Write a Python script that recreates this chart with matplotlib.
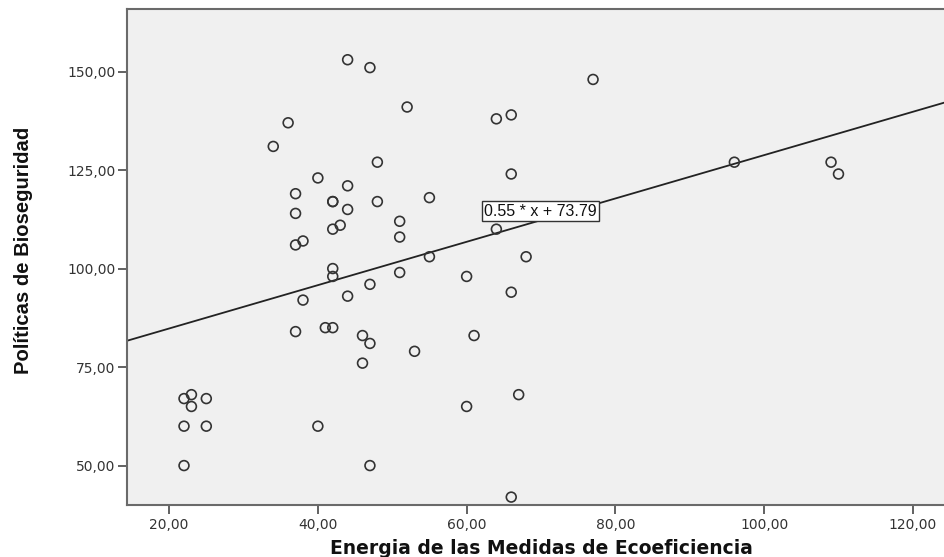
import matplotlib
matplotlib.use("Agg")
import matplotlib.pyplot as plt
import numpy as np

plt.rcParams['font.family'] = ['Liberation Sans', 'DejaVu Sans']

# Data
energia = [44, 47, 52, 64, 66, 36, 34, 48, 66, 40, 44, 37, 42, 42, 48, 55, 44, 37,
           51, 43, 42, 64, 51, 38, 37, 55, 68, 42, 42, 51, 60, 66, 47, 44, 38, 37,
           41, 42, 46, 47, 61, 53, 46, 67, 60, 22, 23, 23, 25, 22, 25, 40, 22, 47,
           66, 77, 96, 109, 110]
politicas = [153, 151, 141, 138, 139, 137, 131, 127, 124, 123, 121, 119, 117, 117,
             117, 118, 115, 114, 112, 111, 110, 110, 108, 107, 106, 103, 103, 100,
             98, 99, 98, 94, 96, 93, 92, 84, 85, 85, 83, 81, 83, 79, 76, 68, 65,
             67, 68, 65, 67, 60, 60, 60, 50, 50, 42, 148, 127, 127, 124]
fit_coef = [0.55, 73.79]  # slope, intercept (from the chart label)
x_ticks = [20, 40, 60, 80, 100, 120]
y_ticks = [50, 75, 100, 125, 150]
x_label = "Energia de las Medidas de Ecoeficiencia"
y_label = "Políticas de Bioseguridad"
fit_label = "0.55 * x + 73.79"

fig = plt.figure(figsize=(9.45, 5.57), dpi=100)
ax = fig.add_axes([0.1349, 0.0934, 0.8665, 0.8899])
ax.set_facecolor('#f0f0f0')

xlim = (14.4, 124.5)
ylim = (40.0, 165.8)
ax.set_xlim(*xlim)
ax.set_ylim(*ylim)

ax.scatter(energia, politicas, s=50, facecolors='none', edgecolors='#333333',
           linewidths=1.2, zorder=3)

xs = np.array(xlim)
ax.plot(xs, fit_coef[0] * xs + fit_coef[1], color='#222222', lw=1.3, zorder=2)

ax.text(62.35, 114.6, fit_label, fontsize=11.5, va='center', ha='left', color='#111111',
        bbox=dict(boxstyle='square,pad=0.15', facecolor='white', edgecolor='#333333', lw=1.0),
        zorder=4)

ax.set_xticks(x_ticks)
ax.set_xticklabels([f"{v:.2f}".replace('.', ',') for v in x_ticks])
ax.set_yticks(y_ticks)
ax.set_yticklabels([f"{v:.2f}".replace('.', ',') for v in y_ticks])
ax.tick_params(axis='both', direction='out', length=6.5, width=1.3, color='#555555',
               labelsize=10, labelcolor='#333333')
ax.tick_params(axis='x', pad=3)
ax.tick_params(axis='y', pad=2)
for lab in ax.get_xticklabels() + ax.get_yticklabels():
    lab.set_family('DejaVu Sans')
ax.tick_params(top=False, right=False)

for side in ['left', 'bottom', 'top']:
    ax.spines[side].set_color('#6a6a6a')
    ax.spines[side].set_linewidth(1.5)
ax.spines['right'].set_visible(False)

ax.set_xlabel(x_label, fontsize=13.5, fontweight='bold', color='#111111',
              family='DejaVu Sans')
ax.set_ylabel(y_label, fontsize=14.6, fontweight='bold', color='#111111')
ax.xaxis.set_label_coords(0.506, -0.088)
ax.xaxis.label.set_verticalalignment('center')
ax.yaxis.set_label_coords(-0.127, 0.514)
ax.yaxis.label.set_verticalalignment('center')

fig.savefig('out.png', dpi=100)
